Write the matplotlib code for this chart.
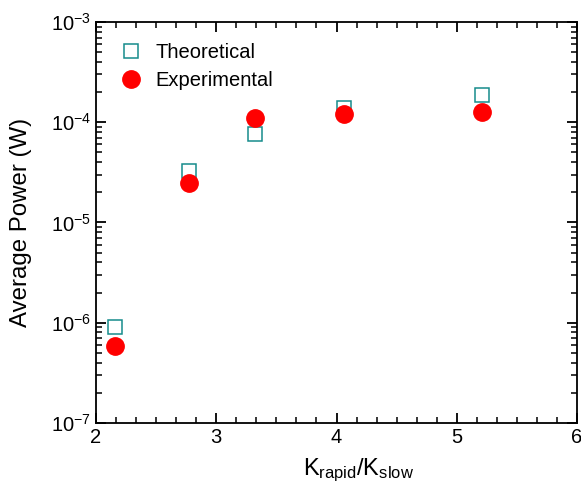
import matplotlib
matplotlib.use('Agg')
import matplotlib.pyplot as plt
from matplotlib.ticker import MultipleLocator, LogLocator, NullFormatter

plt.rcParams['font.family'] = ['Liberation Sans', 'DejaVu Sans']
plt.rcParams['mathtext.fontset'] = 'custom'
plt.rcParams['mathtext.rm'] = 'Liberation Sans'
plt.rcParams['mathtext.it'] = 'Liberation Sans'

# data
k_ratio = [2.16, 2.77, 3.32, 4.06, 5.21]
theoretical = [9.0e-7, 3.3e-5, 7.7e-5, 1.38e-4, 1.87e-4]
experimental = [5.8e-7, 2.5e-5, 1.1e-4, 1.22e-4, 1.26e-4]

fig = plt.figure(figsize=(5.81, 4.86), dpi=100)
ax = fig.add_axes([96/581, 1-423/486, 481/581, 401/486])

ax.plot(k_ratio, theoretical, 's', ms=10, mfc='none', mec='#168c8c', mew=1.1,
        label='Theoretical')
ax.plot(k_ratio, experimental, 'o', ms=12.5, color='#ff0000', mec='#ff0000',
        label='Experimental')

ax.set_yscale('log')
ax.set_xlim(2, 6)
ax.set_ylim(1e-7, 1e-3)
ax.xaxis.set_major_locator(MultipleLocator(1))
ax.xaxis.set_minor_locator(MultipleLocator(1/6))
ax.yaxis.set_major_locator(LogLocator(base=10, numticks=10))
ax.yaxis.set_minor_locator(LogLocator(base=10, subs=range(2, 10), numticks=20))
ax.yaxis.set_minor_formatter(NullFormatter())
ax.tick_params(which='both', direction='in', top=True, right=True, labelsize=14.5)
ax.tick_params(which='major', length=7, width=1.3)
ax.tick_params(which='minor', length=4, width=1.1)
for s in ax.spines.values():
    s.set_linewidth(1.3)

ax.set_xlabel(r'K$_{\mathrm{rapid}}$/K$_{\mathrm{slow}}$', fontsize=17, labelpad=6)
ax.xaxis.set_label_coords(0.545, -0.085)
ax.set_ylabel('Average Power (W)', fontsize=17.3)
ax.yaxis.set_label_coords(-0.133, 0.5)

ax.legend(loc='upper left', frameon=False, fontsize=14.5, handlelength=1.0,
          handletextpad=0.7, borderpad=0, borderaxespad=0, labelspacing=0.45,
          bbox_to_anchor=(0.052, 0.948))

fig.savefig('out.png', dpi=100)
